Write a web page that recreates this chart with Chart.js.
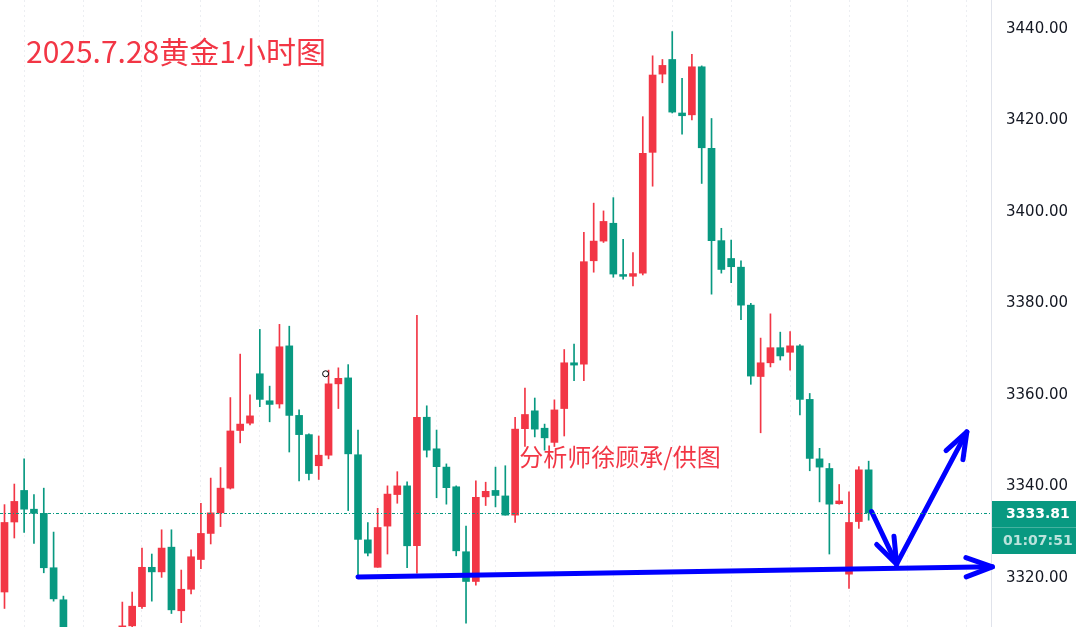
<!DOCTYPE html>
<html>
<head>
<meta charset="utf-8">
<script src="https://cdn.jsdelivr.net/npm/chart.js@4"></script>
<style>
  html, body { margin: 0; padding: 0; background: #fff; }
  #wrap { width: 1076px; height: 627px; position: relative; }
</style>
</head>
<body>
<div id="wrap"><canvas id="goldChart"></canvas></div>
<script>
// 1h candles, 2025-07-28 gold (index 7-11 fall below the visible range)
const opens  = [3316.5, 3331.8, 3338.7, 3334.6, 3333.7, 3321.8, 3314.8, null, null, null, null, null,
  3305.0, 3309.1, 3313.3, 3321.9, 3320.9, 3326.3, 3312.4, 3317.1, 3323.6, 3329.3, 3333.8, 3339.2,
  3351.8, 3353.4, 3364.2, 3358.3, 3357.6, 3370.3, 3355.1, 3350.9, 3344.1, 3346.4, 3362.0, 3363.3,
  3346.5, 3327.9, 3321.9, 3330.9, 3337.8, 3339.7, 3326.6, 3354.7, 3347.8, 3343.8, 3339.5, 3325.3,
  3318.8, 3337.3, 3338.7, 3337.5, 3333.3, 3352.2, 3356.1, 3352.3, 3349.2, 3356.6, 3366.6, 3366.3,
  3388.9, 3393.2, 3397.1, 3385.9, 3385.5, 3386.2, 3412.6, 3429.7, 3432.9, 3421.2, 3420.8, 3431.3,
  3413.5, 3393.3, 3389.4, 3387.5, 3379.2, 3363.6, 3366.6, 3369.9, 3368.9, 3370.3, 3358.6, 3345.6,
  3343.5, 3335.8, 3320.4, 3331.9, 3343.2];
const highs  = [3335.6, 3340.1, 3345.6, 3337.8, 3339.2, 3329.6, 3315.6, null, null, null, null, null,
  3314.3, 3316.5, 3326.1, 3324.8, 3330.1, 3330.1, 3321.3, 3325.7, 3335.9, 3341.4, 3343.7, 3359.0,
  3368.5, 3359.6, 3373.9, 3361.5, 3375.0, 3374.6, 3356.3, 3351.1, 3350.6, 3365.0, 3365.5, 3366.2,
  3351.9, 3331.7, 3334.8, 3339.7, 3342.8, 3340.6, 3377.0, 3357.2, 3351.9, 3344.5, 3339.7, 3330.9,
  3340.8, 3340.5, 3343.8, 3344.1, 3354.7, 3361.1, 3358.9, 3353.2, 3358.5, 3369.5, 3370.7, 3395.1,
  3401.5, 3399.8, 3402.7, 3393.6, 3390.7, 3420.4, 3433.7, 3432.9, 3439.0, 3428.8, 3434.0, 3431.5,
  3420.0, 3396.0, 3393.4, 3388.9, 3379.6, 3372.0, 3377.3, 3373.3, 3373.4, 3370.6, 3359.9, 3347.9,
  3344.6, 3340.0, 3338.4, 3343.9, 3345.1];
const lows   = [3312.9, 3328.3, 3329.5, 3327.1, 3320.7, 3314.5, 3303.0, null, null, null, null, null,
  3303.0, 3308.5, 3312.9, 3314.5, 3319.7, 3311.8, 3309.8, 3316.1, 3321.6, 3327.0, 3330.8, 3339.0,
  3349.1, 3353.0, 3357.0, 3353.7, 3356.7, 3347.1, 3340.8, 3341.0, 3341.1, 3345.6, 3356.6, 3334.3,
  3319.8, 3324.4, 3321.9, 3324.8, 3335.9, 3321.8, 3320.6, 3346.0, 3337.1, 3335.7, 3324.4, 3309.7,
  3318.0, 3335.4, 3335.1, 3333.3, 3331.7, 3348.3, 3350.4, 3347.5, 3348.3, 3350.6, 3362.7, 3362.7,
  3386.4, 3392.9, 3385.3, 3384.9, 3383.4, 3385.8, 3405.2, 3427.8, 3421.2, 3416.6, 3419.7, 3405.8,
  3381.6, 3386.2, 3384.1, 3376.0, 3361.9, 3351.3, 3365.7, 3367.2, 3365.0, 3355.2, 3343.0, 3336.2,
  3324.8, 3335.7, 3317.3, 3330.4, 3332.2];
const closes = [3331.7, 3336.3, 3334.6, 3333.7, 3321.8, 3315.0, 3306.0, null, null, null, null, null,
  3309.1, 3313.4, 3321.9, 3320.9, 3326.1, 3312.6, 3317.1, 3324.2, 3329.3, 3333.8, 3339.2, 3351.7,
  3353.2, 3355.0, 3358.6, 3357.5, 3370.1, 3355.1, 3350.9, 3342.4, 3346.4, 3362.0, 3363.2, 3346.7,
  3328.0, 3325.0, 3330.6, 3337.9, 3339.7, 3326.6, 3354.7, 3347.5, 3343.9, 3339.3, 3325.5, 3318.8,
  3337.2, 3338.5, 3337.6, 3333.3, 3352.1, 3355.3, 3352.1, 3350.2, 3356.3, 3366.6, 3366.1, 3388.7,
  3393.2, 3397.5, 3386.0, 3385.5, 3386.1, 3412.4, 3429.5, 3431.6, 3421.4, 3420.6, 3431.3, 3413.6,
  3393.3, 3387.0, 3387.6, 3379.2, 3363.7, 3366.6, 3369.9, 3368.1, 3370.3, 3358.6, 3345.7, 3343.8,
  3335.7, 3336.4, 3331.7, 3343.2, 3333.81];

const priceTicks = [3320, 3340, 3360, 3380, 3400, 3420, 3440];
const gridCandles = [2, 8, 14, 20, 26, 32, 38, 44, 50, 56, 62, 68, 74, 80, 86, 92, 98];
const lastPrice = 3333.81;
const countdown = '01:07:51';
const titleText = '2025.7.28黄金1小时图';
const creditText = '分析师徐顾承/供图';

// hand drawn blue marks, in (candle index, price)
const supportLine = [{x: 36.0, y: 3319.8}, {x: 100.6, y: 3322.0}];
const downLeg = [{x: 88.3, y: 3334.1}, {x: 90.85, y: 3322.6}];
const upLeg = [{x: 90.85, y: 3322.6}, {x: 98.0, y: 3351.5}];
const cursorMark = [{x: 32.7, y: 3364.2}];

const UP = '#f23645';
const DOWN = '#089981';

const wickData = [], bodyData = [], candleColors = [];
opens.forEach((o, i) => {
  if (o === null) return;
  wickData.push({x: i, y: [lows[i], highs[i]]});
  bodyData.push({x: i, y: [o, closes[i]]});
  candleColors.push(closes[i] >= o ? UP : DOWN);
});

function arrowHead(ctx, x0, y0, x1, y1) {
  const a = Math.atan2(y1 - y0, x1 - x0);
  const len = 28, spread = 20 * Math.PI / 180;
  ctx.beginPath();
  ctx.moveTo(x1 - len * Math.cos(a - spread), y1 - len * Math.sin(a - spread));
  ctx.lineTo(x1, y1);
  ctx.lineTo(x1 - len * Math.cos(a + spread), y1 - len * Math.sin(a + spread));
  ctx.stroke();
}

const overlay = {
  id: 'overlay',
  afterDatasetsDraw(chart) {
    const {ctx, chartArea, scales} = chart;
    const xs = scales.x, ys = scales.y;
    ctx.save();

    // last price line
    const py = Math.round(ys.getPixelForValue(lastPrice)) + 0.5;
    ctx.strokeStyle = DOWN;
    ctx.lineWidth = 1;
    ctx.setLineDash([3, 2, 1, 2]);
    ctx.beginPath();
    ctx.moveTo(chartArea.left, py);
    ctx.lineTo(chartArea.right, py);
    ctx.stroke();
    ctx.setLineDash([]);

    // arrow heads
    ctx.strokeStyle = '#0000ff';
    ctx.lineWidth = 5;
    ctx.lineCap = 'round';
    ctx.lineJoin = 'round';
    [supportLine, downLeg, upLeg].forEach(seg => {
      const a = seg[0], b = seg[seg.length - 1];
      arrowHead(ctx, xs.getPixelForValue(a.x), ys.getPixelForValue(a.y),
        xs.getPixelForValue(b.x), ys.getPixelForValue(b.y));
    });

    // price tag on the axis
    const bx = chartArea.right + 1, bw = chart.width - bx;
    ctx.fillStyle = DOWN;
    ctx.fillRect(bx, py - 12.5, bw, 53);
    ctx.fillStyle = 'rgba(255,255,255,0.25)';
    ctx.fillRect(bx, py + 13.5, bw, 1);
    ctx.textBaseline = 'middle';
    ctx.textAlign = 'left';
    ctx.font = 'bold 14px "DejaVu Sans"';
    ctx.fillStyle = '#ffffff';
    ctx.fillText(lastPrice.toFixed(2), 1006, py + 1);
    ctx.fillStyle = 'rgba(255,255,255,0.72)';
    ctx.fillText(countdown, 1003, py + 28);

    // texts
    ctx.fillStyle = UP;
    ctx.font = '30px "Noto Sans CJK SC"';
    ctx.fillText(titleText, 26, 52);
    ctx.font = '24px "Noto Sans CJK SC"';
    ctx.textAlign = 'center';
    ctx.fillText(creditText, 620, 457);
    ctx.restore();
  }
};

const ctx = document.getElementById('goldChart').getContext('2d');
const goldChart = new Chart(ctx, {
  type: 'bar',
  data: {
    datasets: [
      {
        label: 'support',
        type: 'line',
        data: supportLine,
        borderColor: '#0000ff',
        borderWidth: 5,
        borderCapStyle: 'round',
        pointRadius: 0,
        clip: false,
        order: -2
      },
      {
        label: 'down',
        type: 'line',
        data: downLeg,
        borderColor: '#0000ff',
        borderWidth: 5,
        borderCapStyle: 'round',
        pointRadius: 0,
        clip: false,
        order: -2
      },
      {
        label: 'up',
        type: 'line',
        data: upLeg,
        borderColor: '#0000ff',
        borderWidth: 5,
        borderCapStyle: 'round',
        pointRadius: 0,
        clip: false,
        order: -2
      },
      {
        label: 'cursor',
        type: 'line',
        data: cursorMark,
        showLine: false,
        pointRadius: 3,
        pointBorderWidth: 1,
        pointBorderColor: '#000',
        pointBackgroundColor: '#fff',
        order: -1
      },
      {
        label: 'body',
        data: bodyData,
        backgroundColor: candleColors,
        barThickness: 7,
        minBarLength: 1,
        grouped: false,
        order: 0
      },
      {
        label: 'wick',
        data: wickData,
        backgroundColor: candleColors,
        barThickness: 1,
        grouped: false,
        order: 1
      }
    ]
  },
  options: {
    responsive: true,
    maintainAspectRatio: false,
    animation: false,
    layout: { padding: 0, autoPadding: false },
    plugins: {
      legend: { display: false },
      tooltip: { enabled: false }
    },
    scales: {
      x: {
        type: 'linear',
        min: -0.458,
        max: 100.46,
        offset: false,
        afterBuildTicks: (scale) => { scale.ticks = gridCandles.map(v => ({value: v})); },
        afterFit: (scale) => { scale.height = 0; scale.paddingLeft = 0; scale.paddingRight = 0; },
        ticks: { display: false },
        grid: { color: '#eceef2', drawTicks: false, offset: false },
        border: { display: false, dash: [2, 3] }
      },
      y: {
        position: 'right',
        min: 3308.85,
        max: 3445.9,
        afterBuildTicks: (scale) => { scale.ticks = priceTicks.map(v => ({value: v})); },
        afterFit: (scale) => { scale.width = 85; scale.paddingTop = 0; scale.paddingBottom = 0; },
        grid: { display: false, drawTicks: false },
        border: { display: true, color: '#e0e3eb' },
        ticks: {
          color: '#131722',
          padding: 15,
          labelOffset: 2,
          font: { family: 'DejaVu Sans', size: 15 },
          callback: (v) => Number(v).toFixed(2)
        }
      }
    }
  },
  plugins: [overlay]
});
</script>
</body>
</html>
